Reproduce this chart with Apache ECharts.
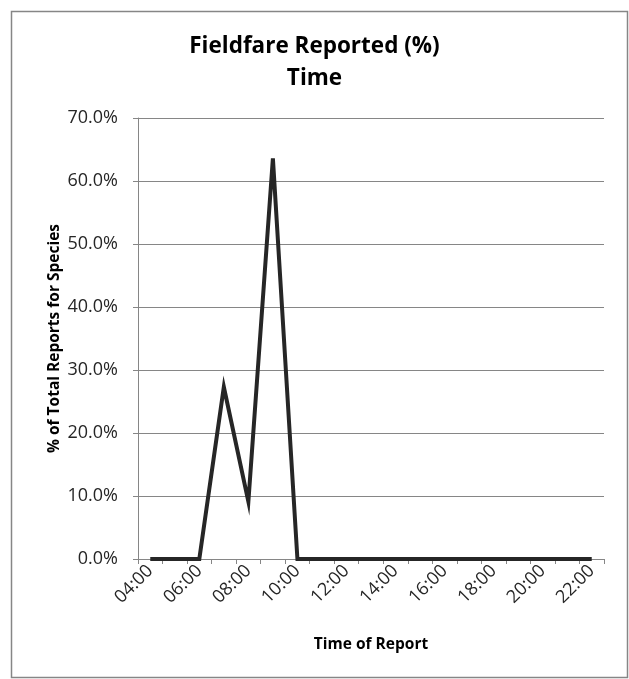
<!DOCTYPE html>
<html>
<head>
<meta charset="utf-8">
<script src="https://cdn.jsdelivr.net/npm/echarts@6/dist/echarts.min.js"></script>
<style>
html,body{margin:0;padding:0;background:#fff;}
#chart{width:629px;height:679px;}
</style>
</head>
<body>
<div id="chart"></div>
<script>
const categories = ['04:00','05:00','06:00','07:00','08:00','09:00','10:00','11:00','12:00','13:00','14:00','15:00','16:00','17:00','18:00','19:00','20:00','21:00','22:00'];
const fieldfarePct = [0, 0, 0, 27.3, 9.1, 63.6, 0, 0, 0, 0, 0, 0, 0, 0, 0, 0, 0, 0, 0];
const yTicks = { min: 0, max: 70, interval: 10 };

const FONT = '"Open Sans", sans-serif';
const chart = echarts.init(document.getElementById('chart'), null, {renderer: 'canvas'});
chart.setOption({
  backgroundColor: '#ffffff',
  animation: false,
  graphic: [{
    type: 'rect',
    shape: {x: 11.5, y: 11.5, width: 616, height: 666},
    style: {fill: 'none', stroke: '#868686', lineWidth: 1.5},
    silent: true
  }],
  title: {
    text: 'Fieldfare Reported (%)\nTime',
    left: 'center',
    top: 26,
    textStyle: {fontFamily: FONT, fontWeight: 'bold', fontSize: 22.5, lineHeight: 32, color: '#000'}
  },
  grid: {left: 138, right: 25, top: 118, bottom: 120, containLabel: false},
  xAxis: {
    type: 'category',
    data: categories,
    boundaryGap: true,
    name: 'Time of Report',
    nameLocation: 'middle',
    nameGap: 78,
    nameTextStyle: {fontFamily: FONT, fontWeight: 'bold', fontSize: 15.5, color: '#000'},
    axisLine: {show: true, lineStyle: {color: '#868686', width: 1}},
    axisTick: {show: true, interval: 0, length: 5, alignWithLabel: false, lineStyle: {color: '#868686'}},
    axisLabel: {interval: 1, rotate: 45, fontFamily: FONT, fontSize: 18, color: '#262626', margin: 9},
    splitLine: {show: false}
  },
  yAxis: {
    type: 'value',
    min: yTicks.min,
    max: yTicks.max,
    interval: yTicks.interval,
    name: '% of Total Reports for Species',
    nameLocation: 'middle',
    nameGap: 75,
    nameMoveOverlap: false,
    nameTextStyle: {fontFamily: FONT, fontWeight: 'bold', fontSize: 15.5, color: '#000'},
    axisLine: {show: true, lineStyle: {color: '#868686', width: 1}},
    axisTick: {show: true, length: 5, lineStyle: {color: '#868686'}},
    axisLabel: {fontFamily: FONT, fontSize: 18, color: '#262626', margin: 20, formatter: v => v.toFixed(1) + '%'},
    splitLine: {show: true, lineStyle: {color: '#868686', width: 1}}
  },
  series: [{
    type: 'line',
    data: fieldfarePct,
    symbol: 'none',
    lineStyle: {color: '#262626', width: 4, join: 'miter'},
    itemStyle: {color: '#262626'}
  }]
});
</script>
</body>
</html>
